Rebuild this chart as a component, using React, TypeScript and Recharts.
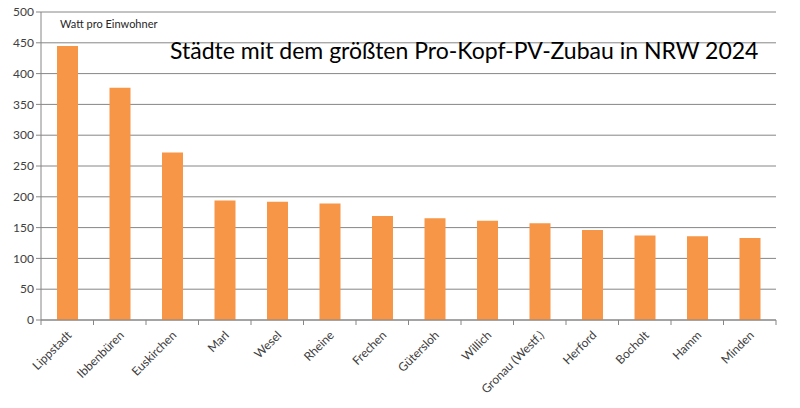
import { BarChart, Bar, XAxis, YAxis, CartesianGrid } from 'recharts';

const cities = [
  'Lippstadt', 'Ibbenbüren', 'Euskirchen', 'Marl', 'Wesel', 'Rheine', 'Frechen',
  'Gütersloh', 'Willich', 'Gronau (Westf.)', 'Herford', 'Bocholt', 'Hamm', 'Minden',
];
const wattPerResident = [445, 377, 272, 194, 192, 189, 169, 165, 161, 157, 146, 137, 136, 133];
const yTicks = [0, 50, 100, 150, 200, 250, 300, 350, 400, 450, 500];

const data = cities.map((city, i) => ({ city, value: wattPerResident[i] }));

const font = 'Lato, "Open Sans", sans-serif';
const grey = '#868686';
const textColor = '#404040';

const chartW = 800;
const margin = { top: 12, right: 24, bottom: 0, left: 0 };
const yAxisW = 41;
const halfBand = (chartW - margin.left - margin.right - yAxisW) / cities.length / 2;

// category label plus the Excel-style tick marks at the category boundaries
function CityTick(props: any) {
  const { x, y, payload, index } = props;
  const top = y - 8;
  return (
    <g>
      <line x1={x - halfBand} x2={x - halfBand} y1={top} y2={top + 5} stroke={grey} />
      {index === cities.length - 1 && (
        <line x1={x + halfBand} x2={x + halfBand} y1={top} y2={top + 5} stroke={grey} />
      )}
      <text
        x={x + 5}
        y={y + 8}
        transform={`rotate(-45, ${x + 5}, ${y + 8})`}
        textAnchor="end"
        fontSize={12}
        fontFamily={font}
        fill={textColor}
      >
        {payload.value}
      </text>
    </g>
  );
}

export default function App() {
  return (
    <div style={{ position: 'absolute', left: 0, top: 0, width: 800, height: 408, background: '#fff' }}>
      <BarChart width={chartW} height={408} data={data} margin={margin}>
        <CartesianGrid vertical={false} stroke={grey} strokeWidth={1} />
        <XAxis
          dataKey="city"
          interval={0}
          height={88}
          tickLine={false}
          axisLine={{ stroke: grey }}
          tick={<CityTick />}
        />
        <YAxis
          width={yAxisW}
          domain={[0, 500]}
          ticks={yTicks}
          interval={0}
          axisLine={{ stroke: grey }}
          tickLine={{ stroke: grey }}
          tickSize={5}
          tick={{ fontSize: 12, fontFamily: font, fill: textColor }}
        />
        <Bar dataKey="value" fill="#F79646" barSize={21} isAnimationActive={false} />
      </BarChart>
      <div
        style={{
          position: 'absolute', left: 60, top: 17, fontFamily: font, fontSize: 11,
          color: '#262626',
        }}
      >
        Watt pro Einwohner
      </div>
      <div
        style={{
          position: 'absolute', left: 170, top: 36, fontFamily: font, fontSize: 23,
          color: '#000', whiteSpace: 'nowrap',
        }}
      >
        Städte mit dem größten Pro-Kopf-PV-Zubau in NRW 2024
      </div>
    </div>
  );
}
